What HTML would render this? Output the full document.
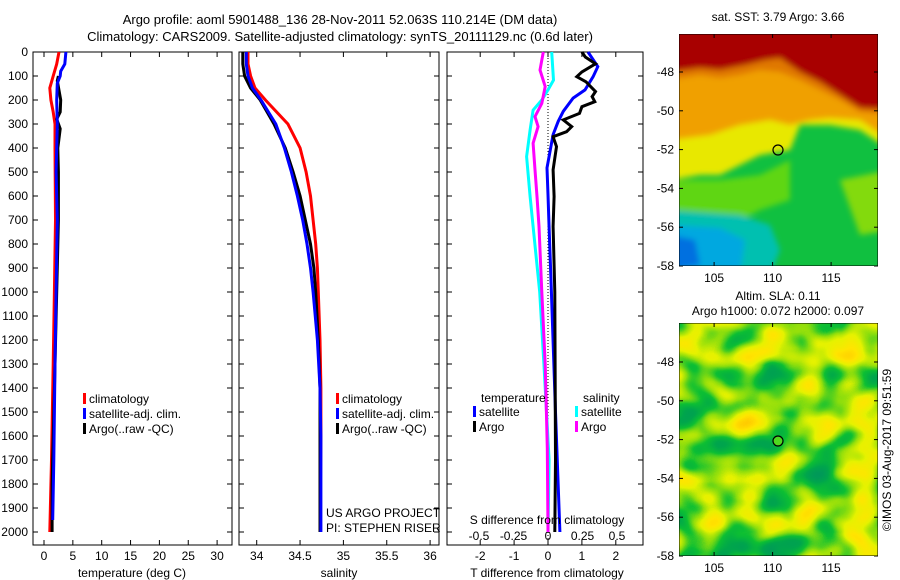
<!DOCTYPE html>
<html><head><meta charset="utf-8"><style>
html,body{margin:0;padding:0;background:#fff;}
svg{display:block;font-family:"Liberation Sans",sans-serif;}
</style></head><body>
<svg id="fig" width="900" height="580" viewBox="0 0 900 580" xmlns="http://www.w3.org/2000/svg">
<defs>
<filter id="slaNoise" x="0" y="0" width="100%" height="100%" color-interpolation-filters="sRGB">
<feTurbulence type="fractalNoise" baseFrequency="0.025 0.03" numOctaves="2" seed="11" result="n"/>
<feColorMatrix type="matrix" values="1 0 0 0 0  1 0 0 0 0  1 0 0 0 0  0 0 0 0 1"/>
<feComponentTransfer>
<feFuncR type="table" tableValues="0 0 0 0.05 0.55 0.9 1 1 1"/>
<feFuncG type="table" tableValues="0.55 0.6 0.65 0.75 0.87 0.95 0.9 0.8 0.7"/>
<feFuncB type="table" tableValues="0.4 0.35 0.3 0.2 0.05 0 0 0 0"/>
<feFuncA type="table" tableValues="1 1"/>
</feComponentTransfer>
</filter>
<filter id="blur3"><feGaussianBlur stdDeviation="3"/></filter>
<clipPath id="clipTop"><rect x="679" y="34" width="199" height="232"/></clipPath>
<clipPath id="clipBot"><rect x="679" y="323" width="199" height="233"/></clipPath>
</defs>
<rect x="0" y="0" width="900" height="580" fill="#fff"/>
<text x="340" y="24" font-size="13" text-anchor="middle">Argo profile: aoml 5901488_136 28-Nov-2011 52.063S 110.214E (DM data)</text>
<text x="340" y="41" font-size="13" text-anchor="middle">Climatology: CARS2009. Satellite-adjusted climatology: synTS_20111129.nc (0.6d later)</text>
<g id="panels"></g>
<g id="maps">
 <text x="778" y="21" font-size="12" text-anchor="middle">sat. SST: 3.79 Argo: 3.66</text>
 <g clip-path="url(#clipTop)">
  <rect x="679" y="34" width="199" height="232" fill="#10c040"/>
  <g filter="url(#blur3)">
   <polygon points="670,25 890,25 890,150 860,130 830,125 800,125 790,150 760,155 720,175 700,175 670,180" fill="#e8e800"/>
   <polygon points="670,25 890,25 890,140 860,120 830,118 810,120 790,125 770,120 740,125 710,135 670,140" fill="#f0a000"/>
   <polygon points="670,25 890,25 890,115 860,112 840,100 820,90 800,80 780,72 760,70 740,75 720,78 700,75 670,80" fill="#e07800"/>
   <polygon points="670,25 890,25 890,110 860,108 840,95 820,82 800,72 780,58 765,60 745,65 720,70 700,68 670,72" fill="#a80000"/>
   <polygon points="670,180 720,180 760,175 790,160 790,200 760,210 740,220 670,215" fill="#80e000" opacity="0.7"/>
   <polygon points="670,210 740,215 770,225 780,250 770,275 670,275" fill="#00c0b0"/>
   <polygon points="670,225 720,228 745,240 740,275 670,275" fill="#00a8e0"/>
   <polygon points="670,235 695,240 700,265 670,270" fill="#0070e0"/>
   <polygon points="840,180 890,170 890,230 860,235" fill="#a0e000" opacity="0.8"/>
  </g>
  <rect x="679" y="34" width="199" height="232" fill="none" stroke="#000" stroke-width="1"/>
 </g>
 <circle cx="778" cy="150" r="5" fill="none" stroke="#000" stroke-width="1.2"/>
 <text x="778" y="300" font-size="12" text-anchor="middle">Altim. SLA: 0.11</text>
 <text x="778" y="315" font-size="12" text-anchor="middle">Argo h1000: 0.072 h2000: 0.097</text>
 <g clip-path="url(#clipBot)">
  <rect x="679" y="323" width="199" height="233" fill="#50d820"/>
  <rect x="679" y="323" width="199" height="233" filter="url(#slaNoise)"/>
  <rect x="679" y="323" width="199" height="233" fill="none" stroke="#000" stroke-width="1"/>
 </g>
 <circle cx="778" cy="441" r="5" fill="#50d820" stroke="#000" stroke-width="1.2"/>
 <g id="mapTicks"></g>
 <text transform="translate(891,450) rotate(-90)" font-size="12" text-anchor="middle">©IMOS 03-Aug-2017 09:51:59</text>
</g>
<text x="326" y="517" font-size="12">US ARGO PROJECT</text>
<text x="326" y="532" font-size="12">PI: STEPHEN RISER</text>
</svg>
<script>
// ---- data ----
const depthTicks = [0,100,200,300,400,500,600,700,800,900,1000,1100,1200,1300,1400,1500,1600,1700,1800,1900,2000];
const tempTicks = [0,5,10,15,20,25,30];
const salTicks = [34,34.5,35,35.5,36];
const salTickLabels = ["34","34.5","35","35.5","36"];
const tdiffTicks = [-2,-1,0,1,2];
const sdiffTicks = [-0.5,-0.25,0,0.25,0.5];
const sdiffTickLabels = ["-0.5","-0.25","0","0.25","0.5"];

const tempClimDepth = [0,50,100,150,200,250,300,400,700,1000,1300,1700,2000];
const tempClim = [2.6,2.2,1.6,1.0,1.2,1.6,1.9,1.9,2.0,1.8,1.6,1.3,1.0];
const tempSatDepth = [0,50,80,100,130,200,300,500,700,1000,1300,1700,1950];
const tempSat = [3.8,3.6,2.9,2.8,2.3,2.2,2.3,2.1,2.3,2.1,1.9,1.7,1.5];
const tempArgoDepth = [100,120,200,250,280,320,400,500,700,1000,1300,1800,2000];
const tempArgo = [2.5,2.3,2.9,2.8,2.2,2.8,2.4,2.5,2.5,2.2,1.9,1.4,1.4];

const salDepth = [0,50,100,150,200,300,400,500,600,700,800,900,1000,1200,1400,1600,2000];
const salClim = [33.9,33.9,33.93,33.98,34.1,34.36,34.5,34.57,34.62,34.65,34.68,34.7,34.71,34.73,34.74,34.74,34.73];
const salSat = [33.88,33.88,33.9,33.95,34.05,34.22,34.32,34.4,34.47,34.53,34.58,34.62,34.65,34.7,34.73,34.74,34.74];
const salArgo = [33.84,33.84,33.86,33.93,34.04,34.2,34.33,34.42,34.5,34.56,34.62,34.66,34.68,34.71,34.73,34.73,34.73];

const tdSatDepth = [0,61,103,158,192,247,289,344,483,594,719,1000,1500,2000];
const tdSat = [1.18,1.47,1.33,1.09,0.74,0.45,0.3,0.15,-0.03,0,0.03,0.1,0.22,0.35];
const tdArgoDepth = [0,21,49,83,103,124,165,186,207,228,256,283,311,332,353,394,491,602,727,1000,1700,2000];
const tdArgo = [1.0,1.1,1.4,1.0,0.85,1.12,1.4,1.3,1.38,1.0,0.93,0.45,0.7,0.55,0.15,0.25,0.15,0.18,0.15,0.2,0.22,0.2];
const sdArgoDepth = [0,75,144,214,269,311,380,491,602,727,1000,1300,1650,2000];
const sdArgo = [-0.034,-0.058,-0.02,-0.045,-0.094,-0.072,-0.108,-0.094,-0.08,-0.065,-0.045,-0.02,-0.005,0];
const sdSatDepth = [0,117,158,200,242,325,436,602,727,1000,1300,1700,2000];
const sdSat = [0.027,0.04,0,-0.045,-0.108,-0.13,-0.155,-0.13,-0.108,-0.06,-0.03,0.008,0];

const latTicks = [-48,-50,-52,-54,-56,-58];
const lonTicks = [105,110,115];

// ---- scales ----
const NS = "http://www.w3.org/2000/svg";
const y = d => 52 + d*0.24;
const xT = v => 44 + v*5.77;
const xS = v => 256.7 + (v-34)*86.7;
const xTd = v => 548 + v*33.9;
const xSd = v => 548 + v*138;
const topY = 52, botY = 545;
const panels = document.getElementById('panels');
function mk(tag, attrs, parent){const e=document.createElementNS(NS,tag);for(const k in attrs)e.setAttribute(k,attrs[k]);(parent||panels).appendChild(e);return e;}
function txt(x,yy,s,anchor,parent){const t=mk('text',{x:x,y:yy,'font-size':12,'text-anchor':anchor||'middle'},parent);t.textContent=s;return t;}

function frame(x0,x1,name){
  const r=mk('rect',{x:x0,y:topY,width:x1-x0,height:botY-topY,fill:'none',stroke:'#000','stroke-width':1});
  
  
  depthTicks.forEach(d=>{
    mk('line',{x1:x0,x2:x0+5,y1:y(d),y2:y(d),stroke:'#000'});
    mk('line',{x1:x1,x2:x1-5,y1:y(d),y2:y(d),stroke:'#000'});
  });
}
function xticks(vals,labels,sc,ly){
  vals.forEach((v,i)=>{
    const X=sc(v);
    mk('line',{x1:X,x2:X,y1:botY,y2:botY-5,stroke:'#000'});
    mk('line',{x1:X,x2:X,y1:topY,y2:topY+5,stroke:'#000'});
    const t=txt(X,ly,labels[i]);
    
    
  });
}
function line(depths,vals,sc,color,name,w){
  const pts=depths.map((d,i)=>sc(vals[i]).toFixed(1)+','+y(d).toFixed(1)).join(' ');
  const p=mk('polyline',{points:pts,fill:'none',stroke:color,'stroke-width':w||3,'stroke-linejoin':'miter'});
  
  
}
function legendEntry(x,yy,color,label){
  const b=mk('rect',{x:x,y:yy-11,width:3,height:11,fill:color});
  
  
  const t=txt(x+6,yy-1,label,'start');
  
  
}

// y tick labels
depthTicks.forEach(d=>{
  const t=txt(28,y(d)+4,String(d),'end');
  
  
});

// panel 1 temperature
frame(33,232,'temperature-panel');
xticks(tempTicks,tempTicks.map(String),xT,560);
line(tempClimDepth,tempClim,xT,'#ff0000','temp-climatology-line');
line(tempArgoDepth,tempArgo,xT,'#000000','temp-argo-line');
line(tempSatDepth,tempSat,xT,'#0000ff','temp-satellite-line');
let t1=txt(132,577,'temperature (deg C)');  
legendEntry(83,404,'#ff0000','climatology');
legendEntry(83,419,'#0000ff','satellite-adj. clim.');
legendEntry(83,434,'#000000','Argo(..raw -QC)');

// panel 2 salinity
frame(239,439,'salinity-panel');
xticks(salTicks,salTickLabels,xS,560);
line(salDepth,salClim,xS,'#ff0000','sal-climatology-line');
line(salDepth,salArgo,xS,'#000000','sal-argo-line');
line(salDepth,salSat,xS,'#0000ff','sal-satellite-line');
let t2=txt(339,577,'salinity');  
legendEntry(336,404,'#ff0000','climatology');
legendEntry(336,419,'#0000ff','satellite-adj. clim.');
legendEntry(336,434,'#000000','Argo(..raw -QC)');

// panel 3 differences
frame(447,643,'difference-panel');
xticks(tdiffTicks,tdiffTicks.map(String),xTd,560);
sdiffTicks.forEach((v,i)=>{const t=txt(xSd(v),540,sdiffTickLabels[i]);});
const zl=mk('line',{x1:xTd(0),x2:xTd(0),y1:topY,y2:botY,stroke:'#000','stroke-dasharray':'1,2'});
 
line(sdSatDepth,sdSat,xSd,'#00ffff','sdiff-satellite-line');
line(sdArgoDepth,sdArgo,xSd,'#ff00ff','sdiff-argo-line');
line(tdSatDepth,tdSat,xTd,'#0000ff','tdiff-satellite-line');
line(tdArgoDepth,tdArgo,xTd,'#000000','tdiff-argo-line');
let t3=txt(547,524,'S difference from climatology');  
let t4=txt(547,577,'T difference from climatology');  
let t5=txt(481,402,'temperature','start');  
let t6=txt(583,402,'salinity','start');  
legendEntry(473,417,'#0000ff','satellite');
legendEntry(473,432,'#000000','Argo');
legendEntry(575,417,'#00ffff','satellite');
legendEntry(575,432,'#ff00ff','Argo');

// map ticks
const mt=document.getElementById('mapTicks');
const lonX = v => 679 + (v-102)*11.7;
[[34,266,72],[323,556,362]].forEach(([top,bot,y48])=>{
  const step=(bot-y48)/10;
  latTicks.forEach(l=>{
    const Y=y48+(-48-l)*step;
    mk('line',{x1:679,x2:683,y1:Y,y2:Y,stroke:'#000'},mt);
    mk('line',{x1:878,x2:874,y1:Y,y2:Y,stroke:'#000'},mt);
    const t=txt(674,Y+4,String(l),'end',mt);
    
    
  });
  lonTicks.forEach(v=>{
    const X=lonX(v);
    mk('line',{x1:X,x2:X,y1:bot,y2:bot-4,stroke:'#000'},mt);
    mk('line',{x1:X,x2:X,y1:top,y2:top+4,stroke:'#000'},mt);
    const t=txt(X,bot+16,String(v),'middle',mt);
    
    
  });
});
</script>
</body></html>
